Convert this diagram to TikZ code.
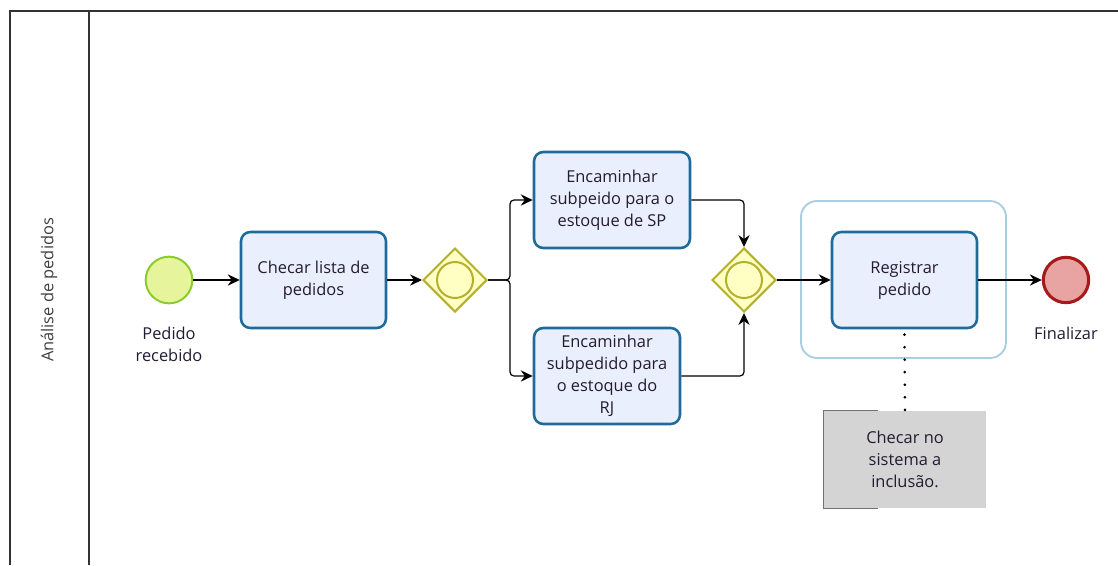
\documentclass[tikz,border=0pt]{standalone}
\usepackage{fontspec}
\setmainfont{Open Sans}
\usetikzlibrary{positioning,arrows.meta,shapes.geometric}

\definecolor{taskfill}{HTML}{E9EFFC}
\definecolor{taskline}{HTML}{1E6A99}
\definecolor{gatefill}{HTML}{FFFFC4}
\definecolor{gateline}{HTML}{B3B02E}
\definecolor{startfill}{HTML}{E6F59C}
\definecolor{startline}{HTML}{8CCB2E}
\definecolor{endfill}{HTML}{E8A3A3}
\definecolor{endline}{HTML}{A81A1A}
\definecolor{grpline}{HTML}{A9CEE1}
\definecolor{notefill}{HTML}{D4D4D4}
\definecolor{txt}{HTML}{241B33}

\begin{document}
\begin{tikzpicture}[
  x=0.75pt, y=-0.75pt,
  font=\fontsize{12.3}{16.5}\selectfont, text=txt,
  task/.style={draw=taskline, fill=taskfill, line width=1.9pt, rounded corners=7pt,
    align=center, minimum width=108.75pt, minimum height=72pt, inner sep=2pt},
  gate/.style={diamond, aspect=1, draw=gateline, fill=gatefill, line width=1.5pt,
    minimum width=48pt, minimum height=48pt, inner sep=0pt,
    path picture={\draw[gateline, line width=1.5pt] (path picture bounding box.center) circle (13.5pt);}},
  startev/.style={circle, draw=startline, fill=startfill, line width=1.5pt, minimum size=35pt, inner sep=0pt},
  endev/.style={circle, draw=endline, fill=endfill, line width=2.3pt, minimum size=34pt, inner sep=0pt},
  lbl/.style={align=center},
  grp/.style={draw=grpline, line width=1.4pt, rounded corners=12pt, minimum width=153.75pt, minimum height=117.75pt},
  note/.style={fill=notefill, align=center, minimum width=121.5pt, minimum height=72.75pt},
  flow/.style={-{Stealth[length=9pt, width=8.5pt, inset=3pt]}, line width=0.9pt, rounded corners=3pt},
  assoc/.style={line width=2.2pt, line cap=round, dash pattern=on 0pt off 9.4pt}
]
\useasboundingbox (0,0) rectangle (1118,565);
% pool and lane
\draw[line width=1.1pt, black!80] (10,565) -- (10,11) -- (1118,11);
\draw[line width=1.1pt, black!80] (89,11) -- (89,565);
\node[rotate=90, text=black!75] (lane) at (49,290) {Análise de pedidos};
% events, tasks, gateways
\node[startev] (start) at (169,280) {};
\node[lbl, below=13.5pt of start] (startlbl) {Pedido\\recebido};
\node[task] (check) at (313.5,280) {Checar lista de\\pedidos};
\node[gate] (split) at (455,280) {};
\node[task, minimum width=117pt] (sp) at (612,200) {Encaminhar\\subpeido para o\\estoque de SP};
\node[task, minimum width=109.5pt] (rj) at (607,376) {};
\node[lbl] (rjtext) at (rj.center) {Encaminhar\\subpedido para\\o estoque do\\RJ};
\node[gate] (join) at (744,280) {};
\node[grp] (grp) at (903.5,279.5) {};
\node[task] (reg) at (904.5,280) {Registrar\\pedido};
\node[endev] (end) at (1066,280) {};
\node[lbl, below=13.5pt of end] (endlbl) {Finalizar};
\node[note] (note) at (905,459.5) {Checar no\\sistema a\\inclusão.};
\draw[line width=1pt, black!55] ([xshift=40.5pt]note.north west) -- (note.north west)
  -- (note.south west) -- ([xshift=40.5pt]note.south west);
% sequence flows
\draw[flow] (start) -- (check);
\draw[flow] (check) -- (split);
\draw[flow] (split.east) -- ++(22,0) |- (sp.west);
\draw[flow] (split.east) -- ++(22,0) |- (rj.west);
\draw[flow] (sp.east) -| (join.north);
\draw[flow] (rj.east) -| (join.south);
\draw[flow] (join) -- (reg);
\draw[flow] (reg) -- (end);
\draw[assoc] ([yshift=-4pt]reg.south) -- (note.north);
\end{tikzpicture}
\end{document}
